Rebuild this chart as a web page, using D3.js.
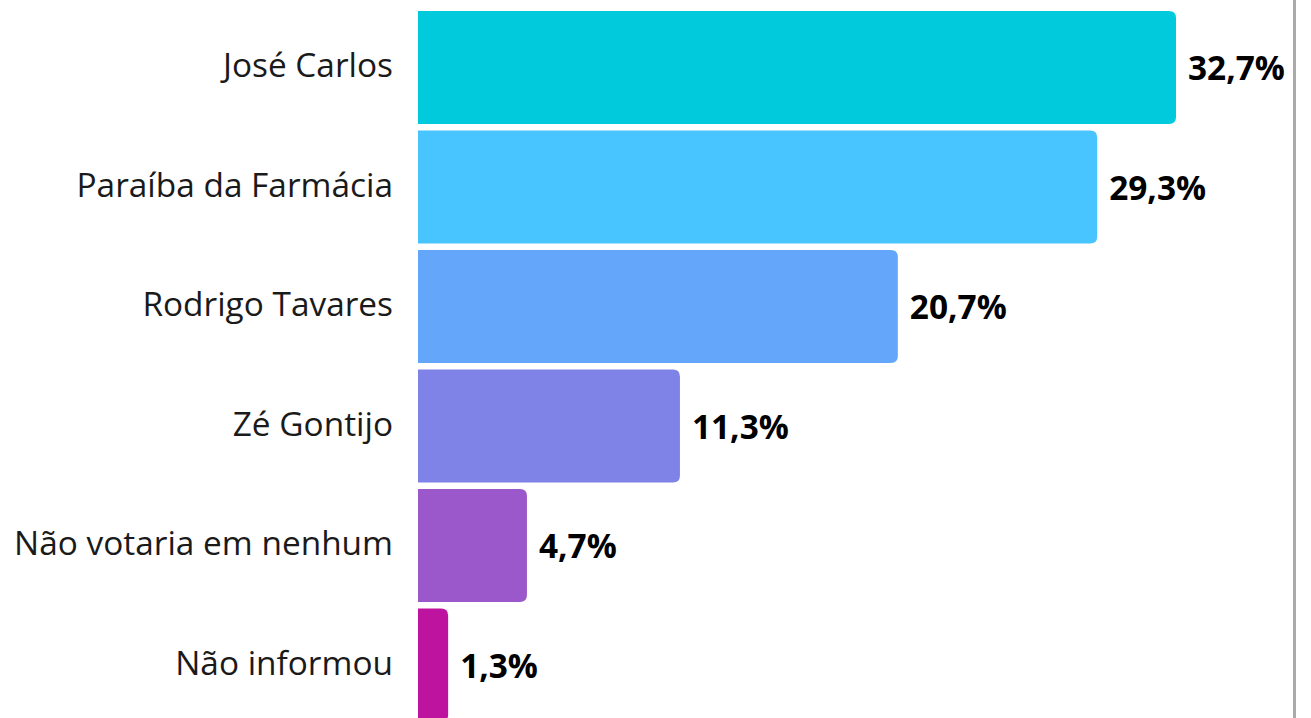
<!DOCTYPE html>
<html>
<head>
<meta charset="utf-8">
<script src="https://cdn.jsdelivr.net/npm/d3@7"></script>
<style>
  body { margin: 0; background: #fff; }
  svg { display: block; }
  text { font-family: "Open Sans", sans-serif; }
</style>
</head>
<body>
<div id="chart"></div>
<script>
var categories = ["José Carlos", "Paraíba da Farmácia", "Rodrigo Tavares", "Zé Gontijo", "Não votaria em nenhum", "Não informou"];
var values = [32.7, 29.3, 20.7, 11.3, 4.7, 1.3];
var colors = ["#00CADC", "#48C4FE", "#64A6FA", "#7F82E6", "#9B58CA", "#BD139F"];

var width = 1311, height = 718;

var svg = d3.select("#chart").append("svg")
    .attr("width", width)
    .attr("height", height);

var x = d3.scaleLinear()
    .domain([0, 32.7])
    .range([418, 1176]);

var y = d3.scaleBand()
    .domain(categories)
    .range([11, 721.5])
    .paddingInner(0.054)
    .paddingOuter(0);

var color = d3.scaleOrdinal()
    .domain(categories)
    .range(colors);

var data = categories.map(function (c, i) {
    return { name: c, value: values[i] };
});

// bar with only the right corners rounded
function barPath(x0, y0, w, h, r) {
    r = Math.min(r, w / 2, h / 2);
    return "M" + x0 + "," + y0 +
        "H" + (x0 + w - r) +
        "Q" + (x0 + w) + "," + y0 + " " + (x0 + w) + "," + (y0 + r) +
        "V" + (y0 + h - r) +
        "Q" + (x0 + w) + "," + (y0 + h) + " " + (x0 + w - r) + "," + (y0 + h) +
        "H" + x0 + "Z";
}

svg.append("g")
    .selectAll("path")
    .data(data)
    .enter().append("path")
    .attr("d", function (d) {
        return barPath(x(0), y(d.name), x(d.value) - x(0), y.bandwidth(), 7);
    })
    .attr("fill", function (d) { return color(d.name); });

svg.append("g")
    .selectAll("text")
    .data(data)
    .enter().append("text")
    .attr("x", 393)
    .attr("y", function (d) { return y(d.name) + y.bandwidth() / 2 - 2; })
    .attr("dy", "0.35em")
    .attr("text-anchor", "end")
    .attr("font-size", 33.4)
    .attr("fill", "#1a1a1a")
    .text(function (d) { return d.name; });

svg.append("g")
    .selectAll("text")
    .data(data)
    .enter().append("text")
    .attr("x", function (d) { return x(d.value) + 12; })
    .attr("y", function (d) { return y(d.name) + y.bandwidth() / 2 + 1; })
    .attr("dy", "0.35em")
    .attr("font-size", 33.4)
    .attr("font-weight", "bold")
    .attr("fill", "#000")
    .text(function (d) { return d3.format(".1f")(d.value).replace(".", ",") + "%"; });

svg.append("line")
    .attr("x1", 1294.5).attr("x2", 1294.5)
    .attr("y1", 0).attr("y2", height)
    .attr("stroke", "#aaaaaa")
    .attr("stroke-width", 3);
</script>
</body>
</html>
